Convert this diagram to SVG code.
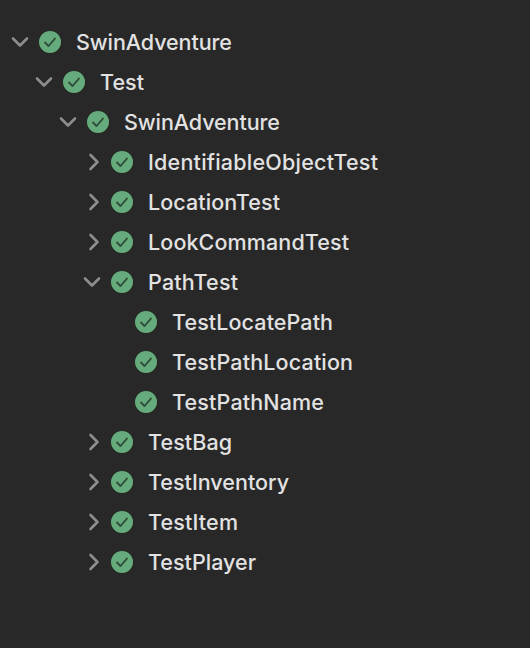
<svg xmlns="http://www.w3.org/2000/svg" width="530" height="648" viewBox="0 0 530 648">
<style>
text{font-family:"Inter","Liberation Sans",sans-serif;font-size:21.500px;fill:#e2e2e2;font-weight:500;lengthAdjust:spacing}
.c{fill:#65ab7b}
.k{fill:none;stroke:#2e4a38;stroke-width:1.800;stroke-linecap:round;stroke-linejoin:round}
.a{fill:none;stroke:#8e8e8e;stroke-width:2.600;stroke-linecap:round;stroke-linejoin:round}
</style>
<defs>
<g id="ok"><circle class="c" r="11"/><path class="k" d="M-5 0.5L-1.500 4L5 -3.500"/></g>
<path id="dn" class="a" d="M-7 -3.500L0 3.500L7 -3.500"/>
<path id="rt" class="a" d="M-3.500 -7L3.500 0L-3.500 7"/>
</defs>
<rect width="530" height="648" fill="#282828"/>
<g id="connectors">
<use href="#dn" x="20" y="42"/>
<use href="#dn" x="44" y="82"/>
<use href="#dn" x="68" y="122"/>
<use href="#rt" x="94" y="162"/>
<use href="#rt" x="94" y="202"/>
<use href="#rt" x="94" y="242"/>
<use href="#dn" x="92" y="282"/>
<use href="#rt" x="94" y="442"/>
<use href="#rt" x="94" y="482"/>
<use href="#rt" x="94" y="522"/>
<use href="#rt" x="94" y="562"/>
</g>
<g id="n1"><use href="#ok" x="50" y="42"/><text x="76" y="49.500" textLength="156">SwinAdventure</text></g>
<g id="n2"><use href="#ok" x="74" y="82"/><text x="100" y="89.500" textLength="44">Test</text></g>
<g id="n3"><use href="#ok" x="98" y="122"/><text x="124" y="129.500" textLength="156">SwinAdventure</text></g>
<g id="n4"><use href="#ok" x="122" y="162"/><text x="148" y="169.500" textLength="230">IdentifiableObjectTest</text></g>
<g id="n5"><use href="#ok" x="122" y="202"/><text x="148" y="209.500" textLength="132">LocationTest</text></g>
<g id="n6"><use href="#ok" x="122" y="242"/><text x="148" y="249.500" textLength="201">LookCommandTest</text></g>
<g id="n7"><use href="#ok" x="122" y="282"/><text x="148" y="289.500" textLength="90">PathTest</text></g>
<g id="n8"><use href="#ok" x="146" y="322"/><text x="172" y="329.500" textLength="161">TestLocatePath</text></g>
<g id="n9"><use href="#ok" x="146" y="362"/><text x="172" y="369.500" textLength="181">TestPathLocation</text></g>
<g id="n10"><use href="#ok" x="146" y="402"/><text x="172" y="409.500" textLength="152">TestPathName</text></g>
<g id="n11"><use href="#ok" x="122" y="442"/><text x="148" y="449.500" textLength="84">TestBag</text></g>
<g id="n12"><use href="#ok" x="122" y="482"/><text x="148" y="489.500" textLength="141">TestInventory</text></g>
<g id="n13"><use href="#ok" x="122" y="522"/><text x="148" y="529.500" textLength="90">TestItem</text></g>
<g id="n14"><use href="#ok" x="122" y="562"/><text x="148" y="569.500" textLength="108">TestPlayer</text></g>
</svg>
